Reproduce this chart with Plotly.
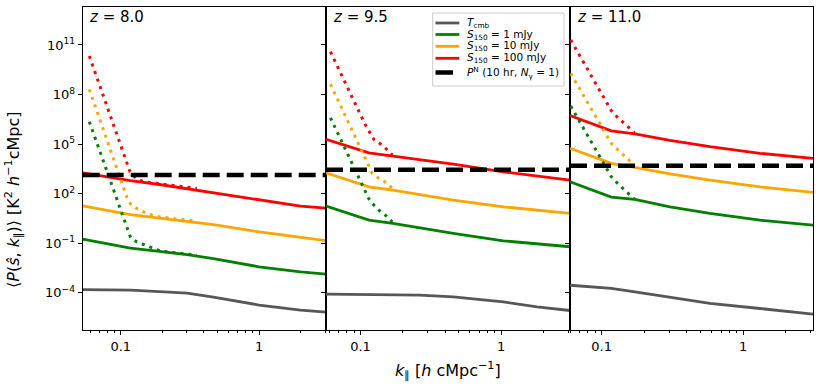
"""Residual power spectra after foreground removal at three redshifts."""

import math

import plotly.graph_objects as go
from plotly.subplots import make_subplots

redshifts = ["8.0", "9.5", "11.0"]

# k_parallel [h/cMpc] of the solid curves, one list per redshift
k_solid = [
    [0.0531, 0.1175, 0.1905, 0.302, 0.468, 1.0, 1.995, 3.05],
    [0.0568, 0.1148, 0.1698, 0.263, 0.457, 1.037, 1.80, 3.09],
    [0.0597, 0.117, 0.1718, 0.304, 0.583, 1.318, 3.126],
]

# solid curves [K^2 h^-1 cMpc]
p_tcmb = [
    [1.55e-4, 1.41e-4, 1.17e-4, 9.3e-5, 5.4e-5, 1.78e-5, 8.7e-6, 6.6e-6],
    [8.1e-5, 7.9e-5, 7.6e-5, 7.1e-5, 5.6e-5, 2.75e-5, 1.38e-5, 8.3e-6],
    [2.82e-4, 1.82e-4, 1.12e-4, 5.1e-5, 2.24e-5, 1.10e-5, 5.0e-6],
]
p_s1 = [
    [0.174, 0.0501, 0.0316, 0.0200, 0.0115, 3.7e-3, 1.82e-3, 1.32e-3],
    [17.4, 2.45, 1.55, 0.832, 0.389, 0.138, 0.0912, 0.0603],
    [525, 61.7, 44.7, 15.8, 6.31, 2.45, 1.23],
]
p_s10 = [
    [18.2, 5.25, 3.31, 2.14, 1.32, 0.479, 0.224, 0.141],
    [1820, 257, 162, 89.1, 40.7, 15.8, 9.77, 6.31],
    [5.5e4, 6760, 3890, 1585, 661, 257, 117],
]
p_s100 = [
    [1820, 603, 355, 200, 115, 40.7, 17.4, 13.2],
    [1.91e5, 2.95e4, 1.86e4, 1.12e4, 6170, 2090, 1175, 661],
    [5.25e6, 6.31e5, 4.07e5, 1.66e5, 6.92e4, 2.75e4, 1.35e4],
]

# dotted curves (low-k excess)
k_dot_s1 = [
    [0.0593, 0.118, 0.1306, 0.15, 0.1675, 0.1923, 0.2208, 0.3548],
    [0.0611, 0.1148, 0.1245, 0.1368, 0.1528, 0.1683],
    [0.0604, 0.117, 0.1282, 0.1416, 0.156, 0.171],
]
p_dot_s1 = [
    [2.24e6, 0.209, 0.120, 0.0759, 0.0479, 0.0339, 0.0295, 0.0186],
    [3.89e6, 46.8, 20.0, 9.12, 4.37, 1.95],
    [2.0e7, 1047, 457, 204, 102, 44.7],
]
k_dot_s10 = [
    [0.0593, 0.1104, 0.118, 0.1306, 0.15, 0.1675, 0.1923, 0.2512, 0.3548],
    [0.0611, 0.1213, 0.1352, 0.1528, 0.1683],
    [0.0604, 0.117, 0.1282, 0.1416, 0.156, 0.171],
]
p_dot_s10 = [
    [2.04e8, 64.6, 22.9, 12.6, 6.92, 5.01, 3.89, 2.95, 2.09],
    [4.17e8, 1660, 832, 447, 204],
    [1.9e9, 1.1e5, 5.0e4, 2.4e4, 1.07e4, 4790],
]
k_dot_s100 = [
    [0.0593, 0.1167, 0.1268, 0.1419, 0.1675, 0.1923, 0.2512, 0.3548],
    [0.0611, 0.1086, 0.1245, 0.139, 0.1535, 0.1683],
    [0.0604, 0.117, 0.1282, 0.1416, 0.156, 0.171],
]
p_dot_s100 = [
    [2.14e10, 2090, 955, 575, 447, 380, 295, 209],
    [3.89e10, 1.35e6, 1.91e5, 1.0e5, 4.79e4, 2.14e4],
    [2.0e11, 1.05e7, 4.47e6, 2.14e6, 9.8e5, 4.47e5],
]

# thermal noise, 10 hr, N_gamma = 1
p_noise = [1318, 2818, 4898]

GRAY = "#575757"
FONT = "DejaVu Sans"
W, H = 830, 388


def px(x):
    return x / W


def py(y):
    return 1 - y / H


fig = make_subplots(rows=1, cols=3, shared_yaxes=True, horizontal_spacing=0)

solid = [
    ("<i>T</i><sub>cmb</sub>", p_tcmb, GRAY),
    ("<i>S</i><sub>150</sub> = 1 mJy", p_s1, "green"),
    ("<i>S</i><sub>150</sub> = 10 mJy", p_s10, "orange"),
    ("<i>S</i><sub>150</sub> = 100 mJy", p_s100, "red"),
]
dotted = [
    (k_dot_s1, p_dot_s1, "green"),
    (k_dot_s10, p_dot_s10, "orange"),
    (k_dot_s100, p_dot_s100, "red"),
]
noise_name = "<i>P</i><sup>N</sup> (10 hr, <i>N</i><sub>γ</sub> = 1)"

for i in range(3):
    col = i + 1
    for name, vals, color in solid:
        fig.add_trace(
            go.Scatter(
                x=k_solid[i], y=vals[i], mode="lines", name=name,
                line=dict(color=color, width=2.8), showlegend=False,
            ),
            row=1, col=col,
        )
    for kd, pd_, color in dotted:
        fig.add_trace(
            go.Scatter(
                x=kd[i], y=pd_[i], mode="lines", showlegend=False,
                line=dict(color=color, width=3, dash="3px,5px"),
            ),
            row=1, col=col,
        )
    fig.add_trace(
        go.Scatter(
            x=[k_solid[i][0], k_solid[i][-1]], y=[p_noise[i], p_noise[i]],
            mode="lines", name=noise_name, showlegend=False,
            line=dict(color="black", width=4.5, dash="17px,7px"),
        ),
        row=1, col=col,
    )

x_edges = [(82.7, 326), (326, 570), (570, 813)]
minor_vals = [0.05, 0.06, 0.07, 0.08, 0.09, 0.2, 0.3, 0.4, 0.5, 0.6, 0.7, 0.8, 0.9, 2, 3]
for i in range(3):
    fig.update_xaxes(
        type="log",
        range=[math.log10(k_solid[i][0]), math.log10(k_solid[i][-1])],
        domain=[px(x_edges[i][0]), px(x_edges[i][1])],
        tickvals=[0.1, 1], ticktext=["0.1", "1"],
        ticks="outside", ticklen=4, tickwidth=1, tickcolor="black",
        minor=dict(ticks="outside", ticklen=2, tickwidth=1, tickcolor="black",
                   tickvals=minor_vals, showgrid=False),
        showline=True, mirror=True, linecolor="black", linewidth=1.2,
        showgrid=False, zeroline=False,
        tickfont=dict(size=13, family=FONT, color="black"),
        row=1, col=i + 1,
    )

fig.update_yaxes(
    type="log", range=[-6.26, 13.28],
    domain=[py(330), py(7.3)],
    tickvals=[1e-4, 1e-1, 1e2, 1e5, 1e8, 1e11],
    ticktext=["10<sup>−4</sup>", "10<sup>−1</sup>", "10<sup>2</sup>",
              "10<sup>5</sup>", "10<sup>8</sup>", "10<sup>11</sup>"],
    ticks="outside", ticklen=4, tickwidth=1, tickcolor="black",
    showline=True, mirror=True, linecolor="black", linewidth=1.2,
    showgrid=False, zeroline=False,
    tickfont=dict(size=13, family=FONT, color="black"),
)

for i, z in enumerate(redshifts):
    fig.add_annotation(
        text=f"<i>z</i> = {z}", xref="paper", yref="paper",
        x=px(x_edges[i][0] + 4.5), y=py(17),
        xanchor="left", yanchor="middle", showarrow=False,
        font=dict(size=15, family=FONT, color="black"),
    )

fig.add_annotation(
    text="<i>k</i><sub>∥</sub> [<i>h</i> cMpc<sup>−1</sup>]",
    xref="paper", yref="paper", x=px(448), y=py(370),
    xanchor="center", yanchor="middle", showarrow=False,
    font=dict(size=16, family=FONT, color="black"),
)
fig.add_annotation(
    text="⟨<i>P</i>(<i>ŝ</i>, <i>k</i><sub>∥</sub>)⟩ [K<sup>2</sup> <i>h</i><sup>−1</sup>cMpc]",
    xref="paper", yref="paper", x=px(14), y=py(200),
    xanchor="center", yanchor="middle", textangle=-90, showarrow=False,
    font=dict(size=16, family=FONT, color="black"),
)

# legend box drawn by hand so its rows are as tight as the original
fig.add_shape(
    type="rect", xref="paper", yref="paper",
    x0=px(432.7), x1=px(564), y0=py(86), y1=py(13),
    line=dict(color="#cccccc", width=1), fillcolor="rgba(255,255,255,0.8)",
    layer="above",
)
legend_rows = [(n, c, 2.8, 459.3) for n, _, c in solid]
legend_rows.append((noise_name, "black", 4.5, 453))
row_y = [23, 34.5, 46.3, 58.3, 72.5]
for (name, color, width, x_end), y in zip(legend_rows, row_y):
    fig.add_shape(
        type="line", xref="paper", yref="paper",
        x0=px(435.5), x1=px(x_end), y0=py(y), y1=py(y),
        line=dict(color=color, width=width), layer="above",
    )
    fig.add_annotation(
        text=name, xref="paper", yref="paper", x=px(464.5), y=py(y),
        xanchor="left", yanchor="middle", showarrow=False,
        font=dict(size=10.5, family=FONT, color="black"),
    )

fig.update_layout(
    width=W, height=H,
    margin=dict(l=0, r=0, t=0, b=0, autoexpand=False),
    plot_bgcolor="white", paper_bgcolor="white",
    font=dict(family=FONT, color="black"),
    showlegend=False,
)

# the page body has a default 8px margin; drop it so the figure sits at 0,0
fig.write_html(
    "out.html",
    config={"displayModeBar": False},
    post_script="document.body.style.margin = '0';",
)
